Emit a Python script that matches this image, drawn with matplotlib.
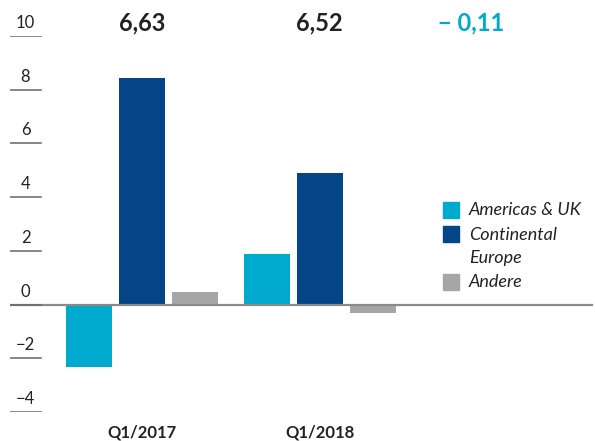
import numpy as np
import matplotlib.pyplot as plt
from matplotlib.patches import Rectangle

# ------------------ Data ------------------
quarters = ['Q1/2017', 'Q1/2018']
regions = ['Americas & UK', 'Continental\nEurope', 'Andere']
americas = [-2.32, 1.88]
continental = [8.43, 4.91]
andere = [0.47, -0.31]
totals = ['6,63', '6,52']
delta = '− 0,11'
y_ticks = [10, 8, 6, 4, 2, 0, -2, -4]

colors = ['#00AACE', '#044587', '#A6A6A6']
text_col = '#222222'

plt.rcParams['font.family'] = ['Lato', 'DejaVu Sans']

W, H = 595, 441
fig = plt.figure(figsize=(W / 100, H / 100), dpi=100)

# axes placed in pixels: y=10 at px 36, y=-4 at px 412, x from px 10 to 595
ax = fig.add_axes([10 / W, (H - 412) / H, 585 / W, 376 / H])
ax.set_ylim(-4, 10)
ax.set_xlim(-0.744, 2.552)
ax.axis('off')

x = np.arange(len(quarters))
step = 0.2986
width = 0.259
for i, vals in enumerate([americas, continental, andere]):
  ax.bar(x + (i - 1) * step, vals, width, color=colors[i], zorder=2)

# zero line and short tick marks on the left, labels centred above them
ax.axhline(0, xmin=0, xmax=582 / 585, color='#8a8a8a', lw=1.6, zorder=3)
for t in y_ticks:
  ax.axhline(t, xmin=0, xmax=31 / 585, color='#666666', lw=1.1, zorder=3)
  lab = str(t) if t >= 0 else '−' + str(-t)
  ax.annotate(lab, (15.5 / 585, t), xycoords=('axes fraction', 'data'),
              xytext=(0, 5.8), textcoords='offset points',
              ha='center', va='baseline', fontsize=12, color=text_col)

# quarter labels
for xi, q in zip(x, quarters):
  ax.annotate(q, (xi, -4), xycoords='data', xytext=(0, -15), textcoords='offset points',
              ha='center', va='center', fontsize=12, fontweight='bold', color=text_col)

# totals on top
for xi, t in zip(x, totals):
  fig.text((142 + xi * 177.5) / W, 1 - 23 / H, t, ha='center', va='center',
           fontsize=17, fontweight='bold', color=text_col)
fig.text(471 / W, 1 - 23 / H, delta, ha='center', va='center',
         fontsize=17, fontweight='bold', color=colors[0])

# legend
leg_y = [210, 234, 282]
for c, lab, yy in zip(colors, regions, leg_y):
  fig.patches.append(Rectangle((443 / W, 1 - (yy + 8) / H), 16 / W, 16 / H,
                               transform=fig.transFigure, color=c, figure=fig))
  t = fig.text(469 / W, 1 - yy / H, lab, ha='left', va='center',
               fontsize=13, style='italic', color=text_col, linespacing=1.5)
  if '\n' in lab:
    # two-line label: centre the block between its two rows
    t.set_position((469 / W, 1 - (yy + 12.5) / H))

fig.savefig('out.png', dpi=100)
